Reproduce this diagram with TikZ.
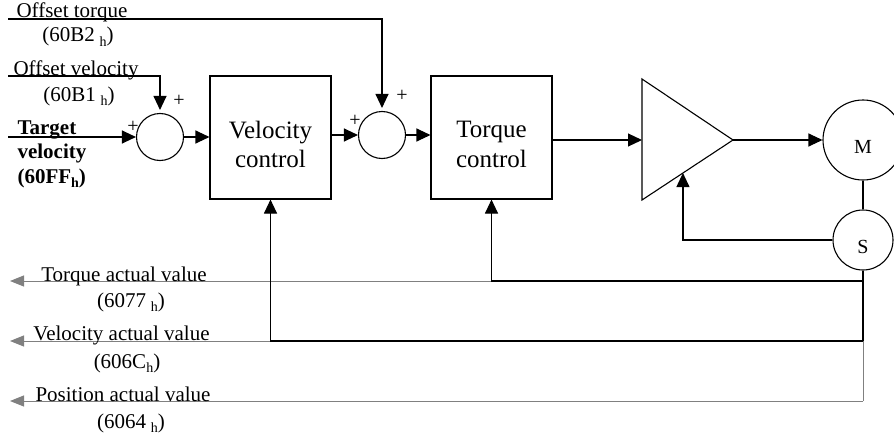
\documentclass[tikz,border=0pt]{standalone}
\usepackage{fontspec}
\setmainfont{Liberation Serif}
\usetikzlibrary{arrows.meta,calc}
\definecolor{fbgray}{RGB}{128,128,128}
\newcommand\hsub{\raisebox{-0.45ex}{\fontsize{14}{14}\selectfont h}}
\begin{document}
\begin{tikzpicture}[x=1pt,y=-1pt,line width=1.1pt,
  lbl/.style={font=\fontsize{21}{21}\selectfont, inner sep=0pt},
  blbl/.style={font=\bfseries\fontsize{21}{21}\selectfont, inner sep=0pt, anchor=base west},
  btxt/.style={font=\fontsize{25}{25}\selectfont, inner sep=0pt, anchor=base},
  sgn/.style={font=\fontsize{20}{20}\selectfont, inner sep=0pt},
  sumc/.style={circle, draw, minimum size=47pt, inner sep=0pt},
  blk/.style={draw, minimum width=121pt, minimum height=123pt, inner sep=0pt},
  arr/.style={-{Triangle[length=14pt,width=13pt]}},
  garr/.style={draw=fbgray, line width=1pt, -{Triangle[length=14pt,width=11pt]}, fbgray},
  gline/.style={draw=fbgray, line width=1pt}
]
\useasboundingbox (0,0) rectangle (894,436);

% blocks
\node[sumc] (s1) at (160,137) {};
\node[sumc] (s2) at (382,135) {};
\node[blk] (vbox) at (270.5,137.5) {};
\node[blk] (tbox) at (491.5,137.5) {};
\node[circle, draw, minimum size=80pt, inner sep=0pt] (M) at (863,140) {};
\node[circle, draw, minimum size=60pt, inner sep=0pt] (S) at (863,240) {};
\node[font=\fontsize{20}{20}\selectfont, inner sep=0pt, anchor=base] (Mt) at (863,153) {M};
\node[font=\fontsize{20}{20}\selectfont, inner sep=0pt, anchor=base] (St) at (863,253) {S};

% amplifier
\coordinate (ampTL) at (642,79);
\coordinate (ampBL) at (642,200);
\coordinate (ampT) at (733,140);
\coordinate (ampIn) at (642,140);
\coordinate (ampFB) at ($(ampBL)!0.45!(ampT)$);
\draw (ampTL) -- (ampT) -- (ampBL) -- cycle;

% block texts
\node[btxt] (vt1) at (270.5,138) {Velocity};
\node[btxt] (vt2) at (270.5,167) {control};
\node[btxt] (tt1) at (491.5,137) {Torque};
\node[btxt] (tt2) at (491.5,167) {control};

% inputs
\coordinate (otS) at (8,19);
\coordinate (ovS) at (8,76);
\coordinate (tvS) at (8,137);
\draw[arr, shorten >=3pt] (otS) -| (s2.north);
\draw[arr, shorten >=3pt] (ovS) -| (s1.north);
\draw[arr] (tvS) -- (s1.west);
\node[lbl, anchor=base west] (ot) at (16,18) {Offset torque};
\node[lbl, anchor=base] (otn) at (78,42) {(60B2\hspace{0.22em}\hsub)};
\node[lbl, anchor=base west] (ov) at (13,75) {Offset velocity};
\node[lbl, anchor=base] (ovn) at (79,101) {(60B1\hspace{0.22em}\hsub)};
\node[blbl] (tv1) at (17,134) {Target};
\node[blbl] (tv2) at (17,158) {velocity};
\node[blbl] (tv3) at (17,183) {(60FF\raisebox{-0.45ex}{\fontsize{14}{14}\selectfont h})};

% signs
\node[sgn] (p1) at (179,101) {+};
\node[sgn] (p2) at (133,127) {+};
\node[sgn] (p3) at (402,96) {+};
\node[sgn] (p4) at (355,121) {+};

% forward path
\draw[arr] (s1.east) -- (s1.east -| vbox.west);
\draw[arr] (vbox.east |- s2.west) -- (s2.west);
\draw[arr] (s2.east) -- (s2.east -| tbox.west);
\draw[arr] (tbox.east |- ampIn) -- (ampIn);
\draw[arr] (ampT) -- (M.west);
\draw (M.south) -- (S.north);
\draw[arr] (S.west) -| (ampFB);

% feedback
\coordinate (jt) at (863,281);
\coordinate (jv) at (863,341);
\coordinate (jp) at (863,401);
\coordinate (to) at (10,281);
\coordinate (vo) at (10,341);
\coordinate (po) at (10,401);
\draw[garr] (jt) -- (to);
\draw[garr] (jv) -- (vo);
\draw[gline] (jv) -- (jp);
\draw[garr] (jp) -- (po);
\draw (S.south) -- (jv);
\draw[arr] (jt) -| (tbox.south);
\draw[arr] (jv) -| (vbox.south);

\node[lbl, anchor=base] (ta) at (124,281) {Torque actual value};
\node[lbl, anchor=base] (tan) at (131,307) {(6077\hspace{0.22em}\hsub)};
\node[lbl, anchor=base] (va) at (121.5,340) {Velocity actual value};
\node[lbl, anchor=base] (van) at (127,368) {(606C\hsub)};
\node[lbl, anchor=base] (pa) at (123,401) {Position actual value};
\node[lbl, anchor=base] (pan) at (131,428) {(6064\hspace{0.22em}\hsub)};
\end{tikzpicture}
\end{document}
